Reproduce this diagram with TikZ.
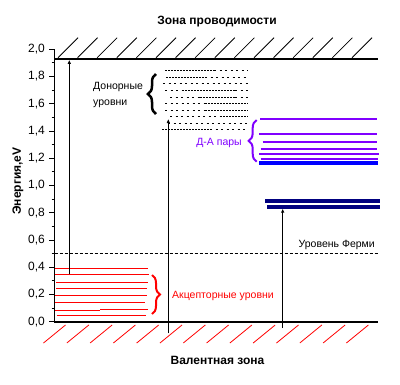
\documentclass[tikz,border=0pt]{standalone}
\usepackage{fontspec}
\setmainfont{Liberation Sans}
\usetikzlibrary{arrows.meta,decorations.pathreplacing}
\definecolor{dapurple}{HTML}{8000FF}
\definecolor{navyc}{HTML}{000080}
\begin{document}
\begin{tikzpicture}[x=1pt,y=-1pt,
  band/.style={line width=2pt},
  axisline/.style={line width=1pt},
  tickmark/.style={line width=0.9pt},
  hatch/.style={line width=0.8pt},
  redhatch/.style={red,line width=0.8pt},
  acc/.style={red,line width=1pt},
  dalvl/.style={dapurple,line width=2pt},
  bluelvl/.style={blue,line width=4pt},
  navylvl/.style={navyc,line width=4pt},
  dd/.style={line width=0.9pt,dash pattern=on 2pt off 1pt},
  ds/.style={line width=0.9pt,dash pattern=on 2pt off 3.5pt},
  arr/.style={line width=0.9pt,-{Latex[length=4pt,width=3.5pt]}},
  fermi/.style={line width=0.9pt,dash pattern=on 3pt off 2pt},
  num/.style={font=\fontsize{12}{14}\selectfont,anchor=east,inner sep=0pt},
  lab/.style={font=\fontsize{10.5}{12}\selectfont,inner sep=0pt},
  ttl/.style={font=\bfseries\fontsize{12}{14}\selectfont,inner sep=0pt},
  bracedeco/.style={decorate,decoration={brace,amplitude=8pt}}
]
\useasboundingbox (0,0) rectangle (400,384);

% titles
\node[ttl] (top) at (217,22) {Зона проводимости};
\node[ttl] (bot) at (217.5,360) {Валентная зона};
\node[ttl,rotate=90] (ylab) at (18,181) {Энергия,eV};

% axis
\draw[axisline] (54.5,49.3) -- (54.5,322.5);
\foreach \i in {0,...,20} {
  \pgfmathsetmacro{\yy}{321.7-13.62*\i}
  \ifodd\i
    \draw[tickmark] (51.5,\yy) -- (54.5,\yy);
  \else
    \draw[tickmark] (49.3,\yy) -- (54.5,\yy);
  \fi
}
\foreach \k/\t in {0/{0,0},1/{0,2},2/{0,4},3/{0,6},4/{0,8},5/{1,0},6/{1,2},7/{1,4},8/{1,6},9/{1,8},10/{2,0}} {
  \node[num] at (45,{321.7-27.24*\k}) {\t};
}

% bands
\draw[band] (54.5,58.7) -- (378,58.7);
\draw[band] (54.5,321.7) -- (378,321.7);
\foreach \k in {0,...,15} \draw[hatch] ({58+19.6*\k},57.7) -- ++(20,-20);
\foreach \k in {0,...,13} \draw[redhatch] ({43.5+23.3*\k},343) -- ++(22,-18);

% acceptor levels
\foreach \y/\a/\b in {268.3/54.5/148.3, 274.3/54.5/149.3, 282/56/148, 288.3/56/147.3, 295/55/147.3, 302.3/55/145, 315.3/56.7/146}
  \draw[acc] (\a,\y) -- (\b,\y);
\draw[acc] (55,310.7) -- (100,310.7);
\draw[acc] (100,309.3) -- (148,309.3);
\draw[red,line width=2pt,bracedeco] (152,275) -- (152,314);
\node[lab,red,anchor=west] (acclab) at (172,296) {Акцепторные уровни};

% donor levels
\foreach \y/\a/\b/\c in {70.7/165/214/248, 77.7/166/205/248, 103.3/205/248/248, 110/205/248/248, 129.7/162/210/248}
  {\draw[dd] (\a,\y) -- (\b,\y); \draw[ds] (\b,\y) -- (\c,\y);}
\draw[ds] (163,83.7) -- (248,83.7);
\draw[ds] (165,90.7) -- (185,90.7); \draw[dd] (185,90.7) -- (235,90.7); \draw[ds] (235,90.7) -- (248,90.7);
\draw[ds] (170,97) -- (200,97); \draw[dd] (200,97) -- (235,97); \draw[ds] (235,97) -- (248,97);
\draw[ds] (165,103.3) -- (205,103.3);
\draw[ds] (165,110) -- (205,110);
\draw[ds] (170,116.7) -- (220,116.7); \draw[dd] (220,116.7) -- (248,116.7);
\draw[ds] (168,123.7) -- (248,123.7);
\draw[line width=2.5pt,bracedeco] (156,114) -- (156,74);
\node[lab,anchor=west] (don1) at (93,87) {Донорные};
\node[lab,anchor=west] (don2) at (93,104) {уровни};

% D-A pairs
\foreach \y/\a/\b in {119.3/260/376.7, 134/259.3/376.7, 141.7/262.7/376.7, 148.7/260.7/376.7, 154.3/259.3/379, 158.7/260.7/377.7}
  \draw[dalvl] (\a,\y) -- (\b,\y);
\draw[bluelvl] (259.3,162.7) -- (377.7,162.7);
\draw[dapurple,line width=2pt,bracedeco] (256.7,161.7) -- (256.7,120);
\node[lab,dapurple,anchor=east] (dalab) at (242,142.7) {Д-А пары};

% deep levels
\draw[navylvl] (265,200.7) -- (380,200.7);
\draw[navylvl] (267.3,206.7) -- (380,206.7);

% Fermi level
\draw[fermi] (54.5,253.3) -- (378,253.3);
\node[lab,anchor=east] (fermilab) at (375,245) {Уровень Ферми};

% transitions
\coordinate (a1s) at (69.3,274.3);
\coordinate (a1e) at (69.3,59.8);
\coordinate (a2s) at (168.3,333.3);
\coordinate (a2e) at (168.3,119);
\coordinate (a3s) at (282.7,328);
\coordinate (a3e) at (282.7,208.6);
\draw[arr] (a1s) -- (a1e);
\draw[arr] (a2s) -- (a2e);
\draw[arr] (a3s) -- (a3e);
\end{tikzpicture}
\end{document}
